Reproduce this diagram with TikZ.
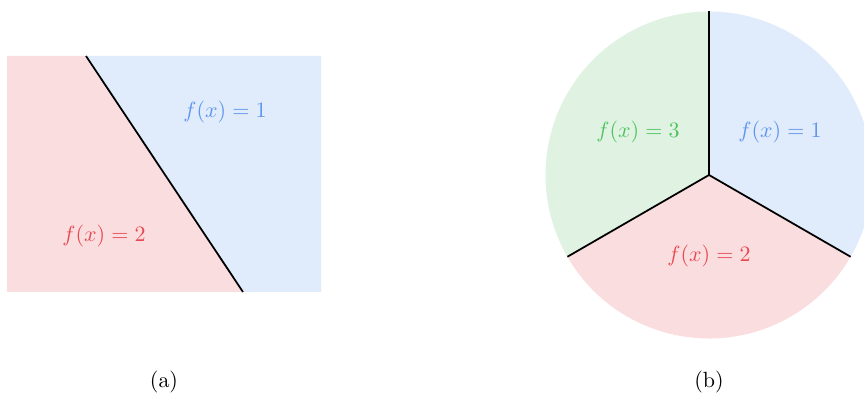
\documentclass[tikz,border=0pt]{standalone}
\usetikzlibrary{calc}
\definecolor{fillblue}{HTML}{E0EBFB}
\definecolor{fillred}{HTML}{FADEDF}
\definecolor{fillgreen}{HTML}{E0F3E3}
\definecolor{txtblue}{HTML}{5B95EC}
\definecolor{txtred}{HTML}{E8474F}
\definecolor{txtgreen}{HTML}{4CC35C}
\begin{document}
\begin{tikzpicture}[x=0.455pt,y=0.455pt,
  border/.style={black,line width=0.8pt},
  lab/.style={inner sep=0pt,font=\normalsize}]
\useasboundingbox (0,0) rectangle (864,394);
\begin{scope}
\clip (0,0) rectangle (864,394);
% left panel
\coordinate (p1) at (86,338);
\coordinate (p2) at (243,102);
\fill[fillred] (7,338) -- (p1) -- (p2) -- (7,102) -- cycle;
\fill[fillblue] (p1) -- (321,338) -- (321,102) -- (p2) -- cycle;
\draw[border] (p1) -- (p2);
\node[lab,text=txtblue] (l1) at (225,282) {$f(x)=1$};
\node[lab,text=txtred] (l2) at (104,158) {$f(x)=2$};
\node[lab] (la) at (164,12) {(a)};
% right panel
\coordinate (c) at (709,219);
\def\R{163.5}
\fill[fillgreen] (c) -- ++(90:\R) arc[start angle=90,end angle=210,radius=\R] -- cycle;
\fill[fillred] (c) -- ++(210:\R) arc[start angle=210,end angle=330,radius=\R] -- cycle;
\fill[fillblue] (c) -- ++(-30:\R) arc[start angle=-30,end angle=90,radius=\R] -- cycle;
\coordinate (e1) at ($(c)+(90:\R)$);
\coordinate (e2) at ($(c)+(210:\R)$);
\coordinate (e3) at ($(c)+(330:\R)$);
\draw[border] (c) -- (e1);
\draw[border] (c) -- (e2);
\draw[border] (c) -- (e3);
\node[lab,text=txtgreen] (r3) at (638,262) {$f(x)=3$};
\node[lab,text=txtblue] (r1) at (780,262) {$f(x)=1$};
\node[lab,text=txtred] (r2) at (709,138) {$f(x)=2$};
\node[lab] (lb) at (709,12) {(b)};
\end{scope}
\end{tikzpicture}
\end{document}
